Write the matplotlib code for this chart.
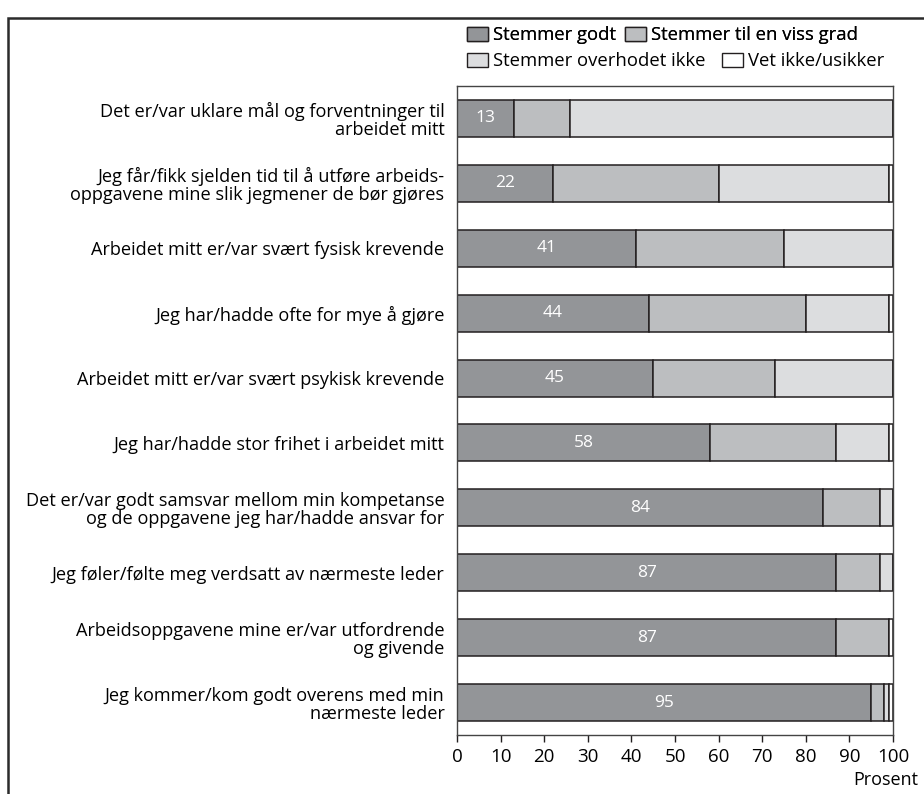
import matplotlib
matplotlib.use('Agg')
import matplotlib.pyplot as plt
from matplotlib.patches import Rectangle, Patch
import numpy as np

plt.rcParams['font.family'] = ['Open Sans', 'DejaVu Sans']

labels = [
    'Det er/var uklare mål og forventninger til\narbeidet mitt',
    'Jeg får/fikk sjelden tid til å utføre arbeids-\noppgavene mine slik jegmener de bør gjøres',
    'Arbeidet mitt er/var svært fysisk krevende',
    'Jeg har/hadde ofte for mye å gjøre',
    'Arbeidet mitt er/var svært psykisk krevende',
    'Jeg har/hadde stor frihet i arbeidet mitt',
    'Det er/var godt samsvar mellom min kompetanse\nog de oppgavene jeg har/hadde ansvar for',
    'Jeg føler/følte meg verdsatt av nærmeste leder',
    'Arbeidsoppgavene mine er/var utfordrende\nog givende',
    'Jeg kommer/kom godt overens med min\nnærmeste leder',
]
godt = [13, 22, 41, 44, 45, 58, 84, 87, 87, 95]
viss_grad = [13, 38, 34, 36, 28, 29, 13, 10, 12, 3]
ikke = [74, 39, 25, 19, 27, 12, 3, 3, 0, 1]
vet_ikke = [0, 1, 0, 1, 0, 1, 0, 0, 1, 1]

series = ['Stemmer godt', 'Stemmer til en viss grad',
          'Stemmer overhodet ikke', 'Vet ikke/usikker']
colors = ['#939598', '#bcbec0', '#dcdddf', '#ffffff']
edge = '#231f20'

W, H = 924, 794
fig = plt.figure(figsize=(W / 100, H / 100), dpi=100)
ax = fig.add_axes([457 / W, 1 - 735 / H, 436 / W, 649 / H])

y = np.arange(len(labels))
left = np.zeros(len(labels))
for vals, c, name in zip([godt, viss_grad, ikke, vet_ikke], colors, series):
    vals = np.array(vals, dtype=float)
    ax.barh(y, vals, left=left, height=0.57, color=c, edgecolor=edge,
            linewidth=1.1, label=name)
    left += vals

for yi, v in zip(y, godt):
    ax.text(v / 2, yi, str(v), color='white', ha='center', va='center',
            fontsize=12.5)

ax.set_xlim(0, 100)
ax.set_ylim(len(labels) - 0.5, -0.5)
ax.set_xticks(range(0, 101, 10))
ax.set_yticks(y)
ax.set_yticklabels(labels, fontsize=13.1, linespacing=1.0)
ax.tick_params(axis='y', length=0, pad=9)
ax.tick_params(axis='x', length=5, width=1, color='#231f20', labelsize=13.5, pad=4)
for s in ax.spines.values():
    s.set_color('#444444')
    s.set_linewidth(1.0)

fig.text(918 / W, 1 - 780 / H, 'Prosent', ha='right', va='center', fontsize=13)

# legend in two rows, like the original
hs = [Patch(facecolor=c, edgecolor=edge, linewidth=1.0) for c in colors]
kw = dict(frameon=False, ncol=2, fontsize=13.3, handlelength=1.15,
          handleheight=0.8, handletextpad=0.25, columnspacing=0.5,
          borderaxespad=0, borderpad=0, loc='center left')
leg1 = fig.legend(hs[:2], series[:2], bbox_to_anchor=(467 / W, 1 - 35 / H), **kw)
fig.add_artist(leg1)
kw['columnspacing'] = 0.9
fig.legend(hs[2:], series[2:], bbox_to_anchor=(467 / W, 1 - 61 / H), **kw)

# outer frame (cropped at right and bottom)
fig.add_artist(Rectangle((8 / W, -0.05), 1.2, 1 - 18 / H + 0.05,
                         transform=fig.transFigure, fill=False,
                         edgecolor='#2b2b2b', linewidth=1.8, clip_on=False))

fig.savefig('out.png', dpi=100)
